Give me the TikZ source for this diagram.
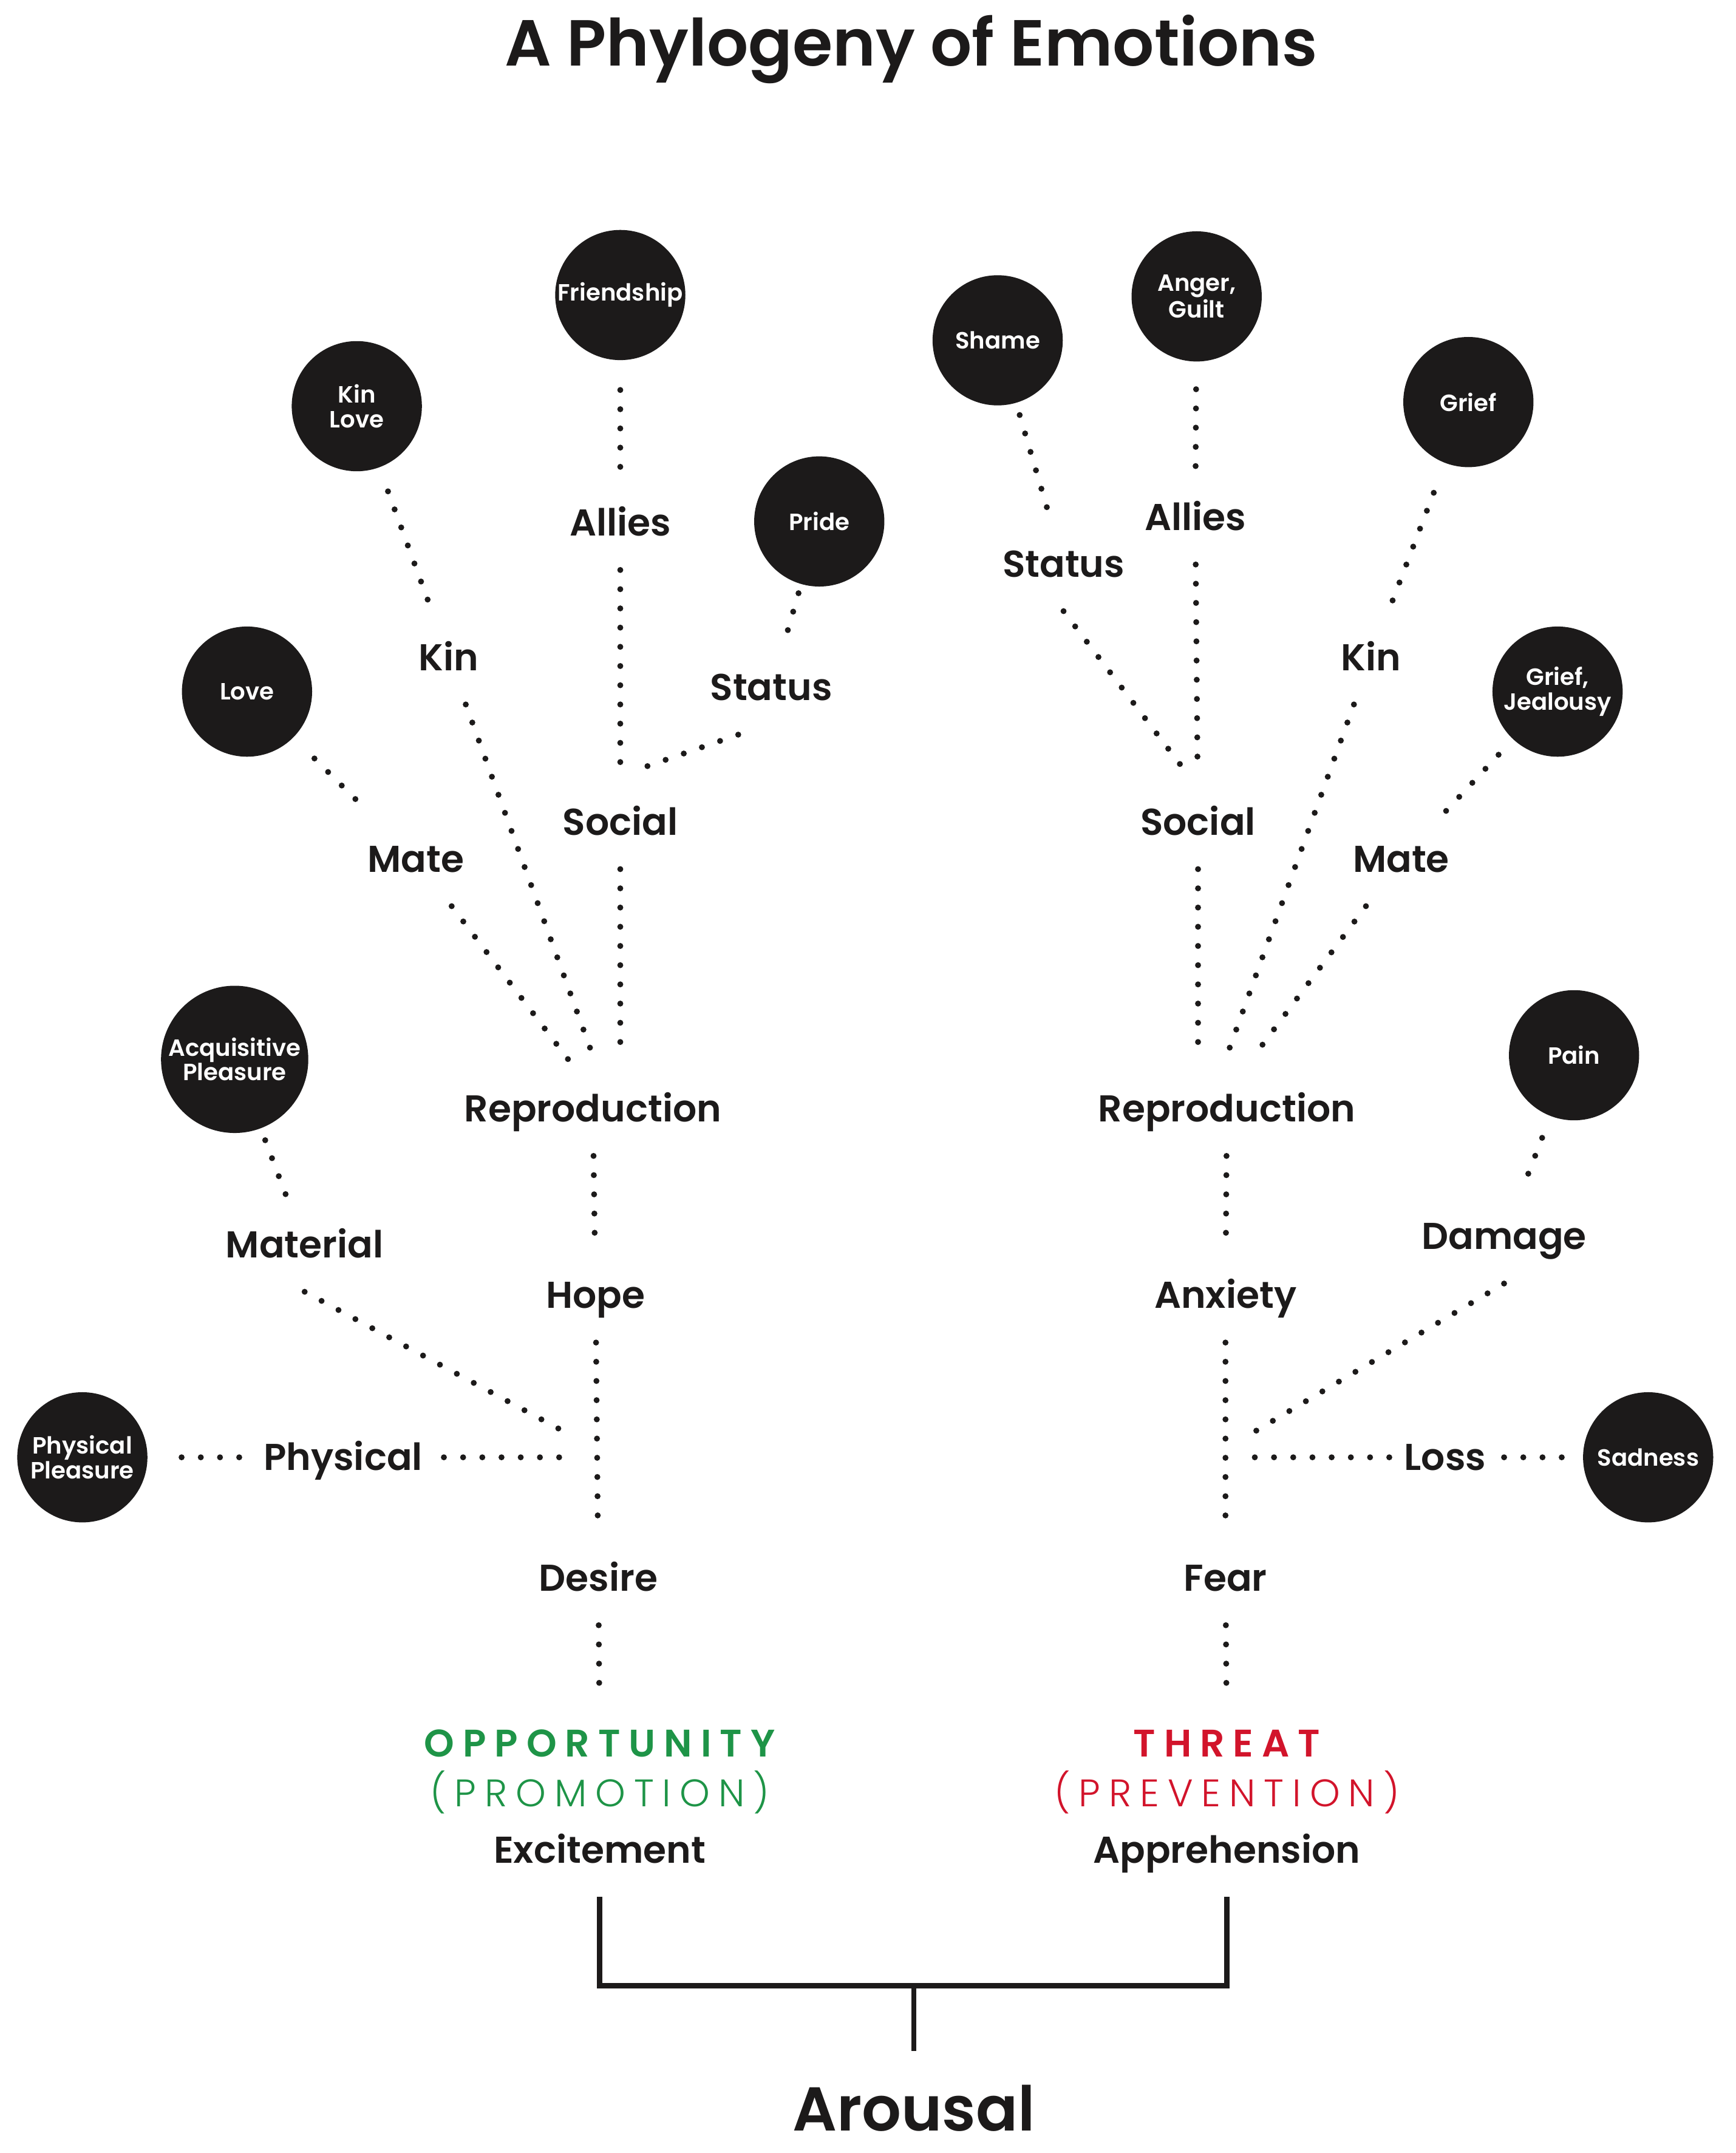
\documentclass[tikz,border=0pt]{standalone}
\usepackage{fontspec}
\setmainfont{Poppins}[UprightFont={* Medium},BoldFont={* SemiBold}]
\newfontfamily\capsbold{Poppins}[UprightFont={* SemiBold},LetterSpace=22]
\newfontfamily\capslight{Poppins}[UprightFont={* Light},LetterSpace=22]
\definecolor{ink}{HTML}{1C1A1A}
\definecolor{oppgreen}{HTML}{1E9447}
\definecolor{threatred}{HTML}{D2142B}
\tikzset{emo/.style={circle,fill=ink,text=white,inner sep=0pt,outer sep=10pt,minimum size=61pt,align=center,font=\fontsize{11}{11.5}\selectfont\bfseries}}
\tikzset{tag/.style={inner sep=0pt,outer xsep=10pt,outer ysep=16pt,text height=12.2pt,text depth=0pt,text=ink,font=\fontsize{17.5}{20}\selectfont\bfseries}}
\tikzset{trail/.style={draw=ink,line width=2.8pt,line cap=round,dash pattern=on 0pt off 9pt}}
\tikzset{bracketline/.style={draw=ink,line width=2.4pt}}

\begin{document}
\begin{tikzpicture}[x=0.0226cm,y=-0.0226cm]
\useasboundingbox (0,0) rectangle (1265,1569);
\node[anchor=base,text=ink,font=\fontsize{30.5}{36}\selectfont\bfseries,name=title] at (664,48) {A Phylogeny of Emotions};

\node[emo,outer sep=14pt,name=friend] at (452,215) {Friendship};
\node[emo,outer sep=12pt,name=kinlove] at (260,296) {Kin\\Love};
\node[emo,outer sep=4.5pt,name=pride] at (597,380) {Pride};
\node[emo,outer sep=14pt,name=love] at (180,504) {Love};
\node[emo,outer sep=6pt,minimum size=69pt,name=acq] at (171,772) {Acquisitive\\Pleasure};
\node[emo,outer sep=16pt,name=physp] at (60,1062) {Physical\\Pleasure};
\node[emo,outer sep=6pt,name=shame] at (727,248) {Shame};
\node[emo,outer sep=13pt,name=anger] at (872,216) {Anger,\\Guilt};
\node[emo,outer sep=15pt,name=grief] at (1070,293) {Grief};
\node[emo,name=griefjeal] at (1135,504) {Grief,\\Jealousy};
\node[emo,outer sep=11pt,name=pain] at (1147,769) {Pain};
\node[emo,name=sadness] at (1201,1062) {Sadness};

\node[tag,name=alliesL] at (452,381) {Allies};
\node[tag,name=kinL] at (327,479) {Kin};
\node[tag,name=statusL] at (562,501) {Status};
\node[tag,name=socialL] at (452,599) {Social};
\node[tag,name=mateL] at (303,626) {Mate};
\node[tag,name=reproL] at (432,808) {Reproduction};
\node[tag,name=material] at (222,907) {Material};
\node[tag,name=hope] at (434,944) {Hope};
\node[tag,name=physical] at (250,1062) {Physical};
\node[tag,name=desire] at (436,1150) {Desire};
\node[tag,text=oppgreen,font=\capsbold\fontsize{18}{20}\selectfont,name=opp] at (437,1271) {OPPORTUNITY};
\node[tag,text=oppgreen,font=\capslight\fontsize{18}{20}\selectfont,name=promo] at (437,1307) {(PROMOTION)};
\node[tag,name=excite] at (437,1348) {Excitement};

\node[tag,name=alliesR] at (871,377) {Allies};
\node[tag,name=statusR] at (775,411) {Status};
\node[tag,name=kinR] at (999,479) {Kin};
\node[tag,name=socialR] at (873,599) {Social};
\node[tag,name=mateR] at (1021,626) {Mate};
\node[tag,name=reproR] at (894,808) {Reproduction};
\node[tag,name=damage] at (1096,901) {Damage};
\node[tag,name=anxiety] at (893,944) {Anxiety};
\node[tag,outer xsep=7pt,name=loss] at (1053,1062) {Loss};
\node[tag,name=fear] at (893,1150) {Fear};
\node[tag,text=threatred,font=\capsbold\fontsize{18}{20}\selectfont,name=threat] at (894,1271) {THREAT};
\node[tag,text=threatred,font=\capslight\fontsize{18}{20}\selectfont,name=prevent] at (894,1307) {(PREVENTION)};
\node[tag,name=appre] at (894,1348) {Apprehension};

\node[anchor=base,inner sep=0pt,outer sep=16pt,text=ink,font=\fontsize{29}{34}\selectfont\bfseries,name=arousal] at (666,1553) {Arousal};

\coordinate (statusfoot) at (464,561);
\coordinate (matefoot) at (414,772);
\coordinate (kinfoot) at (433,772);
\coordinate (socialfoot) at (452,772);
\coordinate (matfoot) at (418,1047);
\coordinate (physfoot) at (418,1062);
\coordinate (statusfootR) at (863,561);
\coordinate (socialfootR) at (873,772);
\coordinate (kinfootR) at (893,772);
\coordinate (matefootR) at (912,772);
\coordinate (damfoot) at (908,1047);
\coordinate (lossfoot) at (907,1062);
\coordinate (fork) at (666,1447);

\draw[trail] (friend) to (alliesL);
\draw[trail] (alliesL) to (socialL);
\draw[trail] (pride) to (statusL);
\draw[trail] (statusL.235) to (statusfoot);
\draw[trail] (kinlove) to (kinL);
\draw[trail] (kinL) to (kinfoot);
\draw[trail] (love) to (mateL);
\draw[trail] (mateL) to (matefoot);
\draw[trail] (socialL) to (socialfoot);
\draw[trail] (reproL) to (hope);
\draw[trail] (acq) to (material);
\draw[trail] (material.south) to (matfoot);
\draw[trail] (physp) to (physical);
\draw[trail] (physical) to (physfoot);
\draw[trail] (hope) to (desire);
\draw[trail] (desire) to (opp);

\draw[trail] (shame) to (statusR);
\draw[trail] (statusR.south) to (statusfootR);
\draw[trail] (anger) to (alliesR);
\draw[trail] (alliesR) to (socialR);
\draw[trail] (grief) to (kinR);
\draw[trail] (kinR) to (kinfootR);
\draw[trail] (griefjeal) to (mateR);
\draw[trail] (mateR) to (matefootR);
\draw[trail] (socialR) to (socialfootR);
\draw[trail] (reproR) to (anxiety);
\draw[trail] (pain) to (damage);
\draw[trail] (damage.south) to (damfoot);
\draw[trail] (sadness) to (loss);
\draw[trail] (loss) to (lossfoot);
\draw[trail] (anxiety) to (fear);
\draw[trail] (fear) to (threat);

\draw[bracketline] (excite) |- (fork) -| (appre);
\draw[bracketline] (fork) to (arousal);
\end{tikzpicture}
\end{document}
